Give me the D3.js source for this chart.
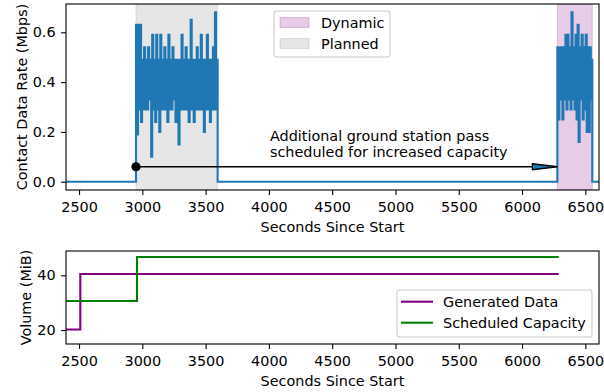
<!DOCTYPE html>
<html>
<head>
<meta charset="utf-8">
<script src="https://cdn.jsdelivr.net/npm/d3@7"></script>
<style>
body{margin:0;background:#fff;}
text{font-family:"DejaVu Sans",sans-serif;}
</style>
</head>
<body>
<svg id="chart" width="604" height="392"></svg>
<script>
//pass windows, seconds since start
var plannedPass=[2950,3595];
var dynamicPass=[6279,6555];
var sampleStep=8;

//contact data rate during each pass (Mbps), one value per sample
var plannedRates=[0.63,0.19,0.63,0.29,0.63,0.24,0.49,0.29,0.54,0.29,
    0.49,0.29,0.54,0.33,0.49,0.10,0.59,0.29,0.49,0.24,
    0.59,0.29,0.49,0.20,0.59,0.29,0.49,0.29,0.54,0.29,
    0.49,0.24,0.59,0.29,0.49,0.29,0.54,0.33,0.49,0.24,
    0.49,0.29,0.15,0.49,0.29,0.59,0.29,0.49,0.29,0.54,
    0.29,0.49,0.24,0.49,0.65,0.29,0.49,0.24,0.49,0.29,
    0.54,0.29,0.49,0.29,0.59,0.29,0.49,0.20,0.49,0.29,
    0.59,0.29,0.49,0.24,0.49,0.29,0.54,0.29,0.68,0.29,0.49];
var dynamicRates=[0.54,0.25,0.54,0.33,0.54,0.25,0.54,0.33,0.59,0.29,
    0.59,0.33,0.54,0.29,0.68,0.33,0.54,0.29,0.59,0.25,
    0.63,0.16,0.54,0.33,0.59,0.25,0.54,0.29,0.59,0.20,
    0.54,0.20,0.54,0.33,0.49];

//cumulative volume (MiB)
var genTimes=[2300,2510,6290];
var genVolume=[20.2,40.5,40.5];
var schedTimes=[2300,2958,6290];
var schedVolume=[30.6,46.7,46.7];

//annotation
var arrowFrom=[2950,0.06];
var arrowTo=[6279,0.06];
var notePos=[4008,0.165];
var noteLines=["Additional ground station pass","scheduled for increased capacity"];

//ticks and domains
var xTicks=[2500,3000,3500,4000,4500,5000,5500,6000,6500];
var rateTicks=[0,0.2,0.4,0.6];
var volTicks=[20,40];
var xDomain=[2397,6608];
var rateDomain=[-0.0333,0.7137];
var volDomain=[14.9,48.9];

var blue="#1f77b4";
var fs=14.4;
var svg=d3.select("#chart");

var left=66,right=599;
var top1=4,bot1=190;
var top2=251,bot2=344;

var x=d3.scaleLinear().domain(xDomain).range([left,right]);
var yRate=d3.scaleLinear().domain(rateDomain).range([bot1,top1]);
var yVol=d3.scaleLinear().domain(volDomain).range([bot2,top2]);

var defs=svg.append("defs");
defs.append("clipPath").attr("id","clip1").append("rect")
    .attr("x",left).attr("y",top1).attr("width",right-left).attr("height",bot1-top1);
defs.append("clipPath").attr("id","clip2").append("rect")
    .attr("x",left).attr("y",top2).attr("width",right-left).attr("height",bot2-top2);

function styleAxis(g){
    g.select(".domain").remove();
    g.selectAll("line").attr("stroke","#000").attr("stroke-width",1.1);
    g.selectAll("text").attr("font-size",fs).attr("fill","#000")
        .attr("font-family","DejaVu Sans");
}

//---- top panel ----
var p1=svg.append("g").attr("clip-path","url(#clip1)");
p1.append("rect").attr("x",x(plannedPass[0])).attr("y",top1)
    .attr("width",x(plannedPass[1])-x(plannedPass[0])).attr("height",bot1-top1)
    .attr("fill","rgba(128,128,128,0.2)").attr("stroke","rgba(128,128,128,0.2)");
p1.append("rect").attr("x",x(dynamicPass[0])).attr("y",top1)
    .attr("width",x(dynamicPass[1])-x(dynamicPass[0])).attr("height",bot1-top1)
    .attr("fill","rgba(128,0,128,0.2)").attr("stroke","rgba(128,0,128,0.2)");

var rateSeries=[[xDomain[0]-100,0]];
plannedRates.forEach(function(v,i){rateSeries.push([plannedPass[0]+i*sampleStep,v]);});
rateSeries.push([plannedPass[1],0]);
dynamicRates.forEach(function(v,i){rateSeries.push([dynamicPass[0]+i*sampleStep,v]);});
rateSeries.push([dynamicPass[1],0]);
rateSeries.push([xDomain[1]+100,0]);

var rateLine=d3.line().curve(d3.curveStepAfter)
    .x(function(d){return x(d[0]);}).y(function(d){return yRate(d[1]);});
p1.append("path").datum(rateSeries).attr("d",rateLine)
    .attr("fill","none").attr("stroke",blue).attr("stroke-width",2.1);

//arrow
var ax0=x(arrowFrom[0]),ay=yRate(arrowFrom[1]),ax1=x(arrowTo[0]);
svg.append("line").attr("x1",ax0).attr("x2",ax1-24).attr("y1",ay).attr("y2",ay)
    .attr("stroke","#000").attr("stroke-width",1.5);
svg.append("path")
    .attr("d","M"+(ax1-25)+","+(ay-3)+"L"+ax1+","+ay+"L"+(ax1-25)+","+(ay+3)+"Z")
    .attr("fill",blue).attr("stroke","#000").attr("stroke-width",1.3);
svg.append("circle").attr("cx",ax0).attr("cy",ay).attr("r",4.6).attr("fill","#000");

var note=svg.append("text").attr("x",x(notePos[0])).attr("y",yRate(notePos[1]))
    .attr("font-size",fs).attr("fill","#000");
noteLines.forEach(function(s,i){
    note.append("tspan").attr("x",x(notePos[0])).attr("dy",i?16.4:0).text(s);
});

svg.append("rect").attr("x",left).attr("y",top1).attr("width",right-left).attr("height",bot1-top1)
    .attr("fill","none").attr("stroke","#000").attr("stroke-width",1.1);

svg.append("g").attr("transform","translate(0,"+bot1+")")
    .call(d3.axisBottom(x).tickValues(xTicks).tickFormat(d3.format("d")).tickSizeOuter(0).tickSize(4.9).tickPadding(6.9))
    .call(styleAxis);
svg.append("g").attr("transform","translate("+left+",0)")
    .call(d3.axisLeft(yRate).tickValues(rateTicks).tickFormat(d3.format(".1f")).tickSizeOuter(0).tickSize(4.9).tickPadding(5.5))
    .call(styleAxis);

svg.append("text").attr("x",(left+right)/2).attr("y",231.7).attr("text-anchor","middle")
    .attr("font-size",fs).text("Seconds Since Start");
svg.append("text").attr("transform","translate(26.5,"+((top1+bot1)/2)+") rotate(-90)")
    .attr("text-anchor","middle").attr("font-size",fs).text("Contact Data Rate (Mbps)");

//legend top
var lg1=svg.append("g");
lg1.append("rect").attr("x",274).attr("y",11).attr("width",116).attr("height",46)
    .attr("rx",2.8).attr("fill","rgba(255,255,255,0.8)").attr("stroke","#cccccc").attr("stroke-width",1.1);
var spanItems=[["Dynamic","rgba(128,0,128,0.2)"],["Planned","rgba(128,128,128,0.2)"]];
spanItems.forEach(function(it,i){
    lg1.append("rect").attr("x",280).attr("y",17.5+i*21).attr("width",29).attr("height",10)
        .attr("fill",it[1]).attr("stroke",it[1]).attr("stroke-width",1.1);
    lg1.append("text").attr("x",321).attr("y",27.5+i*21).attr("font-size",fs).text(it[0]);
});

//---- bottom panel ----
var p2=svg.append("g").attr("clip-path","url(#clip2)");
var volLine=d3.line().curve(d3.curveStepAfter)
    .x(function(d){return x(d[0]);}).y(function(d){return yVol(d[1]);});
p2.append("path").datum(genTimes.map(function(t,i){return [t,genVolume[i]];})).attr("d",volLine)
    .attr("fill","none").attr("stroke","purple").attr("stroke-width",2.1);
p2.append("path").datum(schedTimes.map(function(t,i){return [t,schedVolume[i]];})).attr("d",volLine)
    .attr("fill","none").attr("stroke","green").attr("stroke-width",2.1);

svg.append("rect").attr("x",left).attr("y",top2).attr("width",right-left).attr("height",bot2-top2)
    .attr("fill","none").attr("stroke","#000").attr("stroke-width",1.1);

svg.append("g").attr("transform","translate(0,"+bot2+")")
    .call(d3.axisBottom(x).tickValues(xTicks).tickFormat(d3.format("d")).tickSizeOuter(0).tickSize(4.9).tickPadding(6.9))
    .call(styleAxis);
svg.append("g").attr("transform","translate("+left+",0)")
    .call(d3.axisLeft(yVol).tickValues(volTicks).tickFormat(d3.format("d")).tickSizeOuter(0).tickSize(4.9).tickPadding(5.5))
    .call(styleAxis);

svg.append("text").attr("x",(left+right)/2).attr("y",386).attr("text-anchor","middle")
    .attr("font-size",fs).text("Seconds Since Start");
svg.append("text").attr("transform","translate(30.5,"+((top2+bot2)/2)+") rotate(-90)")
    .attr("text-anchor","middle").attr("font-size",fs).text("Volume (MiB)");

//legend bottom
var lg2=svg.append("g");
lg2.append("rect").attr("x",397).attr("y",290).attr("width",195).attr("height",47)
    .attr("rx",2.8).attr("fill","rgba(255,255,255,0.8)").attr("stroke","#cccccc").attr("stroke-width",1.1);
var lineItems=[["Generated Data","purple"],["Scheduled Capacity","green"]];
lineItems.forEach(function(it,i){
    lg2.append("line").attr("x1",401).attr("x2",433).attr("y1",301.7+i*21).attr("y2",301.7+i*21)
        .attr("stroke",it[1]).attr("stroke-width",2.1);
    lg2.append("text").attr("x",443).attr("y",306.7+i*21).attr("font-size",fs).text(it[0]);
});
</script>
</body>
</html>
